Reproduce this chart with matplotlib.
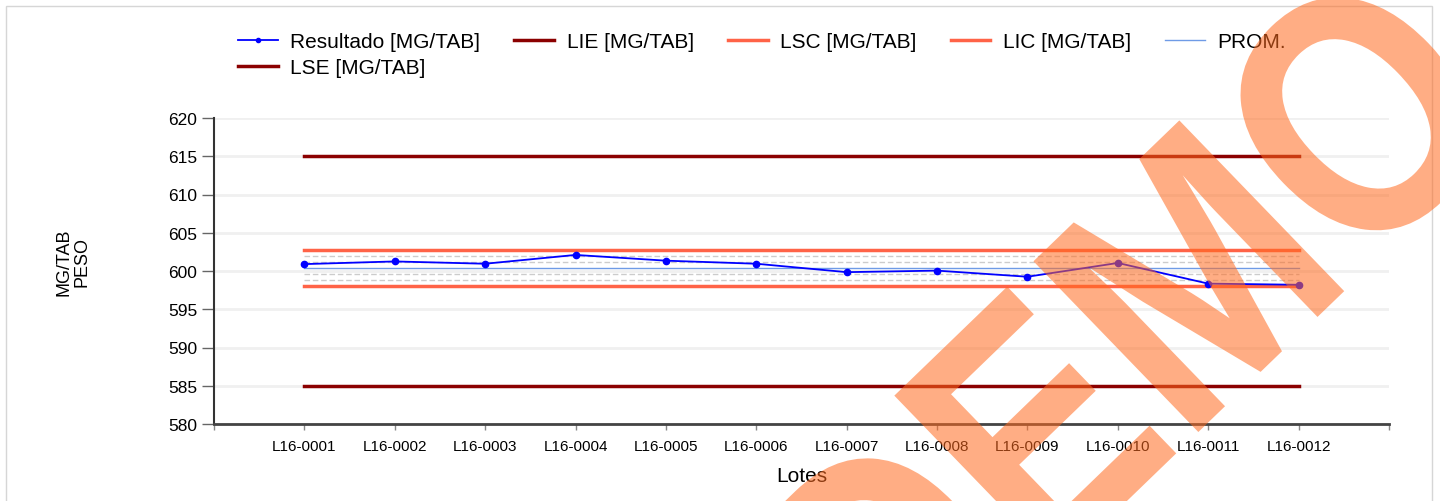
import numpy as np
import matplotlib
matplotlib.use('Agg')
import matplotlib.pyplot as plt
from matplotlib.lines import Line2D
from matplotlib.patches import Rectangle, PathPatch
from matplotlib.textpath import TextPath
from matplotlib.font_manager import FontProperties
from matplotlib.transforms import Affine2D

plt.rcParams['font.family'] = ['Liberation Sans', 'DejaVu Sans']

lotes = ['L16-0001', 'L16-0002', 'L16-0003', 'L16-0004', 'L16-0005', 'L16-0006',
         'L16-0007', 'L16-0008', 'L16-0009', 'L16-0010', 'L16-0011', 'L16-0012']
resultado = [600.9, 601.25, 600.95, 602.1, 601.35, 600.95,
             599.85, 600.05, 599.25, 601.05, 598.35, 598.2]
lse = 615
lie = 585
lsc = 602.72
lic = 597.98
prom = 600.35
sigma_lines = [601.93, 601.14, 599.56, 598.77]

yticks = [580, 585, 590, 595, 600, 605, 610, 615, 620]

W, H = 1440, 502
fig = plt.figure(figsize=(W / 100, H / 100), dpi=100)
ax = fig.add_axes([214/W, 1-425/H, 1175/W, 306/H])

x = list(range(1, len(lotes) + 1))
x_ends = [x[0], x[-1]]

for yv in yticks:
    ax.axhline(yv, color='#F0F0F0', lw=2, zorder=0)

for yv in sigma_lines:
    ax.plot(x_ends, [yv, yv], color='#CCCCCC', lw=1, ls=(0, (4, 2)), zorder=1)

ax.plot(x_ends, [lse, lse], color='#8B0000', lw=2.5, zorder=2)
ax.plot(x_ends, [lie, lie], color='#8B0000', lw=2.5, zorder=2)
ax.plot(x_ends, [lsc, lsc], color='#FF6347', lw=2.5, zorder=2)
ax.plot(x_ends, [lic, lic], color='#FF6347', lw=2.5, zorder=2)
ax.plot(x_ends, [prom, prom], color='#6F9BE6', lw=1, zorder=2)
ax.plot(x, resultado, color='#0000FF', lw=1.3, marker='o', ms=4.5, zorder=3)

ax.set_xlim(0, 13)
ax.set_ylim(580, 620)
ax.set_yticks(yticks)
ax.set_xticks(range(0, 14))
ax.set_xticklabels([''] + lotes + [''])

for s in ['top', 'right']:
    ax.spines[s].set_visible(False)
ax.spines['left'].set_color('#333333')
ax.spines['left'].set_linewidth(1.5)
ax.spines['bottom'].set_color('#444444')
ax.spines['bottom'].set_linewidth(2)

ax.tick_params(axis='y', direction='out', length=9, width=1, color='#666666',
               labelsize=12.5, pad=3)
ax.tick_params(axis='x', direction='out', length=4.5, width=1, color='#888888',
               labelsize=11, pad=6)

ax.set_xlabel('Lotes', fontsize=15, labelpad=10)
fig.text(73/W, 1-262/H, 'MG/TAB\nPESO', rotation=90, ha='center', va='center',
         fontsize=13, multialignment='center', linespacing=1.0)

# legend
h_res = Line2D([], [], color='#0000FF', lw=1.3, marker='o', ms=3)
h_lse = Line2D([], [], color='#8B0000', lw=2.5)
h_lie = Line2D([], [], color='#8B0000', lw=2.5)
h_lsc = Line2D([], [], color='#FF6347', lw=2.5)
h_lic = Line2D([], [], color='#FF6347', lw=2.5)
h_prom = Line2D([], [], color='#6F9BE6', lw=1)
fig.legend([h_res, h_lse, h_lie, h_lsc, h_lic, h_prom],
           ['Resultado [MG/TAB]', 'LSE [MG/TAB]', 'LIE [MG/TAB]', 'LSC [MG/TAB]',
            'LIC [MG/TAB]', 'PROM.'],
           ncol=5, loc='upper left', bbox_to_anchor=(238/W, 1-33/H),
           frameon=False, fontsize=15, handlelength=1.9, handletextpad=0.6,
           columnspacing=1.65, labelspacing=0.35, borderpad=0, borderaxespad=0)

# border
fig.patches.append(Rectangle((6/W, -0.1), 1426/W, 1.1 - 7/H,
                             transform=fig.transFigure, fill=False,
                             edgecolor='#D6D6D6', lw=1))

# watermark, drawn as a rotated text path
tp = TextPath((0, 0), 'DEMO', size=1,
              prop=FontProperties(family='Liberation Sans', weight='bold'))
su, sv = 290, 345
ua, va_ = np.radians(44), np.radians(134)
a, b = su*np.cos(ua), su*np.sin(ua)
c, d = sv*np.cos(va_), sv*np.sin(va_)
anchor_u, anchor_v = 2.611, 0.36
tx = 1353 - (a*anchor_u + c*anchor_v)
ty = (H - 111) - (b*anchor_u + d*anchor_v)
wm = Affine2D(np.array([[a, c, tx], [b, d, ty], [0, 0, 1]]))
fig.patches.append(PathPatch(tp, transform=wm, facecolor='#FF6A1F',
                             edgecolor='none', alpha=0.55, zorder=10))

fig.savefig('out.png', dpi=100)
